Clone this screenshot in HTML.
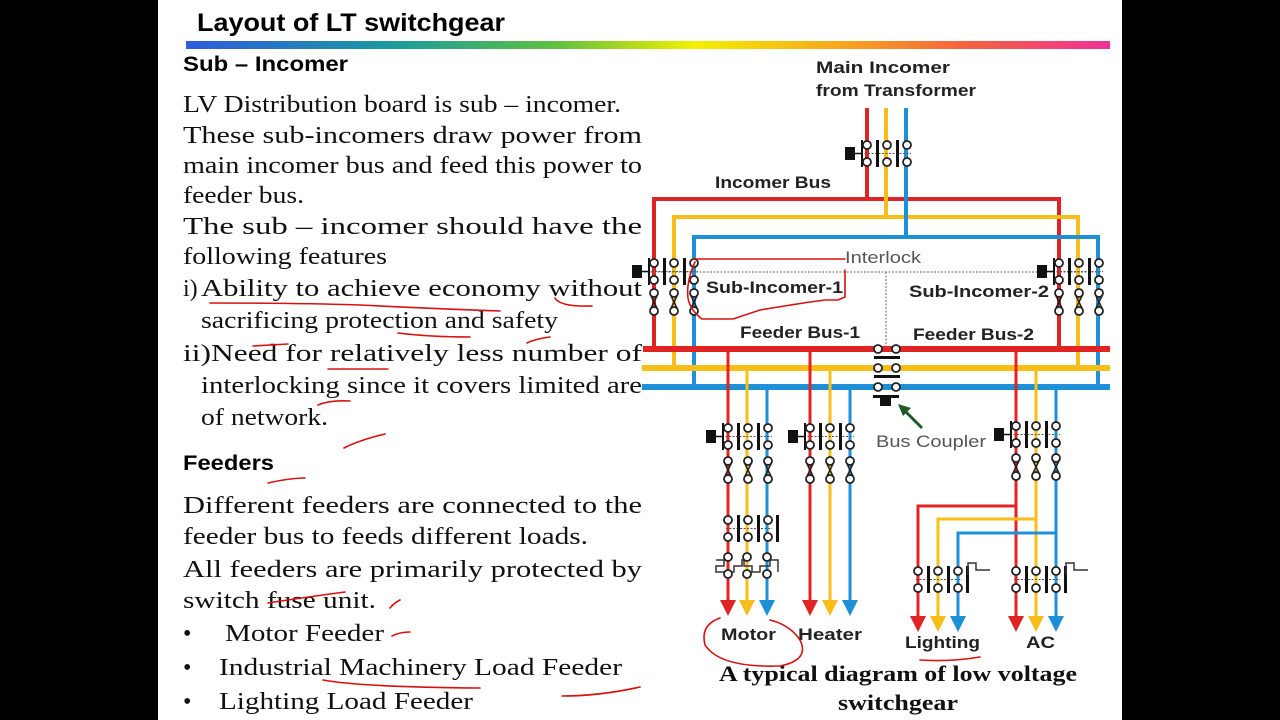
<!DOCTYPE html>
<html><head><meta charset="utf-8"><style>
html,body{margin:0;padding:0;background:#000;}
svg{display:block}
</style></head><body>
<svg width="1280" height="720" viewBox="0 0 1280 720" xmlns="http://www.w3.org/2000/svg">
<defs>
<linearGradient id="gb" x1="0" x2="1" y1="0" y2="0">
<stop offset="0" stop-color="#2f5be0"/><stop offset="0.22" stop-color="#1a9aa0"/><stop offset="0.4" stop-color="#60c040"/><stop offset="0.55" stop-color="#f2f000"/><stop offset="0.72" stop-color="#f9a020"/><stop offset="0.85" stop-color="#f56040"/><stop offset="1" stop-color="#f0309a"/>
</linearGradient>
<g id="pair"><circle cx="0" cy="0" r="4" fill="#fff" stroke="#222" stroke-width="1.8"/><circle cx="0" cy="17" r="4" fill="#fff" stroke="#222" stroke-width="1.8"/></g>
<g id="brk">
<line x1="-6" y1="8.5" x2="44" y2="8.5" stroke="#555" stroke-width="1" stroke-dasharray="2,1.5"/>
<rect x="-22" y="2" width="10" height="13" fill="#111"/><line x1="-12" y1="8.5" x2="-5" y2="8.5" stroke="#111" stroke-width="1.5"/>
<rect x="-6" y="-5" width="2" height="27" fill="#111"/>
<rect x="9" y="-5" width="3" height="27" fill="#111"/><rect x="29" y="-5" width="3" height="27" fill="#111"/>
<use href="#pair" x="0"/><use href="#pair" x="20"/><use href="#pair" x="40"/>
</g>
<g id="fus"><line x1="-3" y1="3" x2="3" y2="15" stroke="#222" stroke-width="1.5"/><line x1="3" y1="3" x2="-3" y2="15" stroke="#222" stroke-width="1.5"/>
<circle cx="0" cy="0" r="4" fill="#fff" stroke="#222" stroke-width="1.8"/><circle cx="0" cy="18" r="4" fill="#fff" stroke="#222" stroke-width="1.8"/></g>
<g id="fus3"><use href="#fus" x="0"/><use href="#fus" x="20"/><use href="#fus" x="40"/></g>
<g id="con">
<line x1="-2" y1="8.5" x2="44" y2="8.5" stroke="#555" stroke-width="1" stroke-dasharray="2,1.5"/>
<rect x="9" y="-5" width="3" height="27" fill="#111"/><rect x="29" y="-5" width="3" height="27" fill="#111"/><rect x="48" y="-5" width="3" height="27" fill="#111"/>
<use href="#pair" x="0"/><use href="#pair" x="20"/><use href="#pair" x="40"/>
</g>
</defs>
<rect x="158" y="0" width="964" height="720" fill="#fff"/>
<rect x="186" y="41" width="924" height="8" fill="url(#gb)"/>
<text x="197" y="31" font-family="Liberation Sans, sans-serif" font-weight="bold" font-size="25" textLength="308" lengthAdjust="spacingAndGlyphs">Layout of LT switchgear</text>
<g font-family="Liberation Sans, sans-serif" font-weight="bold" font-size="21">
<text x="183" y="71" textLength="165" lengthAdjust="spacingAndGlyphs">Sub – Incomer</text>
<text x="183" y="470" textLength="91" lengthAdjust="spacingAndGlyphs">Feeders</text>
</g>
<g font-family="Liberation Serif, serif" font-size="24" fill="#111">
<text x="183" y="112" textLength="438" lengthAdjust="spacingAndGlyphs">LV Distribution board is sub – incomer.</text>
<text x="183" y="143" textLength="459" lengthAdjust="spacingAndGlyphs">These sub-incomers draw power from</text>
<text x="183" y="173" textLength="459" lengthAdjust="spacingAndGlyphs">main incomer bus and feed this power to</text>
<text x="183" y="203" textLength="121" lengthAdjust="spacingAndGlyphs">feeder bus.</text>
<text x="183" y="234" textLength="459" lengthAdjust="spacingAndGlyphs">The sub – incomer should have the</text>
<text x="183" y="264" textLength="204" lengthAdjust="spacingAndGlyphs">following features</text>
<text x="183" y="296">i)</text>
<text x="201" y="296" textLength="441" lengthAdjust="spacingAndGlyphs">Ability to achieve economy without</text>
<text x="201" y="328" textLength="357" lengthAdjust="spacingAndGlyphs">sacrificing protection and safety</text>
<text x="183" y="361" textLength="459" lengthAdjust="spacingAndGlyphs">ii)Need for relatively less number of</text>
<text x="201" y="393" textLength="441" lengthAdjust="spacingAndGlyphs">interlocking since it covers limited are</text>
<text x="201" y="425" textLength="127" lengthAdjust="spacingAndGlyphs">of network.</text>
<text x="183" y="513" textLength="459" lengthAdjust="spacingAndGlyphs">Different feeders are connected to the</text>
<text x="183" y="544" textLength="405" lengthAdjust="spacingAndGlyphs">feeder bus to feeds different loads.</text>
<text x="183" y="577" textLength="459" lengthAdjust="spacingAndGlyphs">All feeders are primarily protected by</text>
<text x="183" y="608" textLength="193" lengthAdjust="spacingAndGlyphs">switch fuse unit.</text>
<text x="183" y="641">•</text><text x="225" y="641" textLength="159" lengthAdjust="spacingAndGlyphs">Motor Feeder</text>
<text x="183" y="675">•</text><text x="219" y="675" textLength="403" lengthAdjust="spacingAndGlyphs">Industrial Machinery Load Feeder</text>
<text x="183" y="709">•</text><text x="219" y="709" textLength="254" lengthAdjust="spacingAndGlyphs">Lighting Load Feeder</text>
</g>
<!-- buses -->
<g fill="none" stroke-linejoin="miter">
<path d="M867 108 V199 M654 350 V199 H1059 V350" stroke="#e02424" stroke-width="4"/>
<path d="M886 108 V217 M674 368 V217 H1078 V368" stroke="#f7bd1a" stroke-width="4"/>
<path d="M906 108 V237 M694 387 V237 H1098 V387" stroke="#1e90d8" stroke-width="4"/>
<path d="M643 349 H1110" stroke="#e02424" stroke-width="6"/>
<path d="M642 368 H1110" stroke="#f7bd1a" stroke-width="6"/>
<path d="M642 387 H1110" stroke="#1e90d8" stroke-width="6"/>
</g>
<line x1="640" y1="272" x2="1100" y2="272" stroke="#666" stroke-width="1" stroke-dasharray="2,1.5"/>
<line x1="886" y1="272" x2="886" y2="348" stroke="#666" stroke-width="1" stroke-dasharray="2,1.5"/>
<use href="#brk" x="867" y="145"/>
<use href="#brk" x="654" y="263"/><use href="#fus3" x="654" y="293"/>
<use href="#brk" x="1059" y="263"/><use href="#fus3" x="1059" y="293"/>
<!-- bus coupler -->
<g>
<rect x="874" y="356" width="26" height="3" fill="#111"/><rect x="874" y="375" width="26" height="3" fill="#111"/>
<circle cx="878" cy="349" r="4" fill="#fff" stroke="#222" stroke-width="1.8"/><circle cx="896" cy="349" r="4" fill="#fff" stroke="#222" stroke-width="1.8"/>
<circle cx="878" cy="368" r="4" fill="#fff" stroke="#222" stroke-width="1.8"/><circle cx="896" cy="368" r="4" fill="#fff" stroke="#222" stroke-width="1.8"/>
<circle cx="878" cy="387" r="4" fill="#fff" stroke="#222" stroke-width="1.8"/><circle cx="896" cy="387" r="4" fill="#fff" stroke="#222" stroke-width="1.8"/>
<rect x="873" y="395" width="26" height="3" fill="#111"/><rect x="880" y="395" width="11" height="11" fill="#111"/>
</g>
<path d="M922 428 L903 409" stroke="#1d5a2a" stroke-width="3"/><path d="M898 404 L911 408 L903 416 Z" fill="#1d5a2a"/>
<!-- feeders -->
<g fill="none" stroke-width="3">
<path d="M728 349 V600 M810 349 V600 M1016 349 V616 M1016 506 H918 V616" stroke="#e02424"/>
<path d="M747 368 V600 M830 368 V600 M1036 368 V616 M1036 519 H938 V616" stroke="#f7bd1a"/>
<path d="M767 387 V600 M850 387 V600 M1056 387 V616 M1056 533 H958 V616" stroke="#1e90d8"/>
</g>
<g>
<path d="M720 600 H736 L728 616 Z" fill="#e02424"/><path d="M739 600 H755 L747 616 Z" fill="#f7bd1a"/><path d="M759 600 H775 L767 616 Z" fill="#1e90d8"/>
<path d="M802 600 H818 L810 616 Z" fill="#e02424"/><path d="M822 600 H838 L830 616 Z" fill="#f7bd1a"/><path d="M842 600 H858 L850 616 Z" fill="#1e90d8"/>
<path d="M910 616 H926 L918 632 Z" fill="#e02424"/><path d="M930 616 H946 L938 632 Z" fill="#f7bd1a"/><path d="M950 616 H966 L958 632 Z" fill="#1e90d8"/>
<path d="M1008 616 H1024 L1016 632 Z" fill="#e02424"/><path d="M1028 616 H1044 L1036 632 Z" fill="#f7bd1a"/><path d="M1048 616 H1064 L1056 632 Z" fill="#1e90d8"/>
</g>
<use href="#brk" x="728" y="428"/><use href="#fus3" x="728" y="461"/>
<use href="#brk" x="810" y="428"/><use href="#fus3" x="810" y="461"/>
<use href="#brk" x="1016" y="426"/><use href="#fus3" x="1016" y="458"/>
<use href="#con" x="728" y="520"/>
<g fill="none" stroke="#333" stroke-width="1.5">
<path d="M716 560 H724 V566 H716 V572 H734 V566 H742 V560 H744 V566 H752 V572 H760 V566 H770 V560 H778 V572"/>
</g>
<use href="#pair" x="728" y="557"/><use href="#pair" x="747" y="557"/><use href="#pair" x="767" y="557"/>
<use href="#con" x="918" y="571"/><use href="#con" x="1016" y="571"/>
<path d="M968 575 V563 H976 V570 H990" fill="none" stroke="#333" stroke-width="1.5"/>
<path d="M1066 575 V563 H1074 V570 H1088" fill="none" stroke="#333" stroke-width="1.5"/>
<!-- labels -->
<g font-family="Liberation Sans, sans-serif" font-weight="bold" font-size="17" fill="#222">
<text x="816" y="73" textLength="134" lengthAdjust="spacingAndGlyphs">Main Incomer</text>
<text x="816" y="96" textLength="160" lengthAdjust="spacingAndGlyphs">from Transformer</text>
<text x="715" y="188" textLength="116" lengthAdjust="spacingAndGlyphs">Incomer Bus</text>
<text x="706" y="293" textLength="137" lengthAdjust="spacingAndGlyphs">Sub-Incomer-1</text>
<text x="909" y="297" textLength="140" lengthAdjust="spacingAndGlyphs">Sub-Incomer-2</text>
<text x="740" y="338" textLength="120" lengthAdjust="spacingAndGlyphs">Feeder Bus-1</text>
<text x="913" y="340" textLength="121" lengthAdjust="spacingAndGlyphs">Feeder Bus-2</text>
<text x="721" y="640" textLength="55" lengthAdjust="spacingAndGlyphs">Motor</text>
<text x="798" y="640" textLength="64" lengthAdjust="spacingAndGlyphs">Heater</text>
<text x="905" y="648" textLength="75" lengthAdjust="spacingAndGlyphs">Lighting</text>
<text x="1026" y="648" textLength="29" lengthAdjust="spacingAndGlyphs">AC</text>
</g>
<g font-family="Liberation Sans, sans-serif" font-size="17" fill="#555">
<text x="845" y="263" textLength="76" lengthAdjust="spacingAndGlyphs">Interlock</text>
<text x="876" y="447" textLength="110" lengthAdjust="spacingAndGlyphs">Bus Coupler</text>
</g>
<g font-family="Liberation Serif, serif" font-weight="bold" font-size="22" fill="#111">
<text x="719" y="681" textLength="358" lengthAdjust="spacingAndGlyphs">A typical diagram of low voltage</text>
<text x="838" y="710" textLength="120" lengthAdjust="spacingAndGlyphs">switchgear</text>
</g>
<!-- handwritten annotations -->
<g fill="none" stroke="#d81010" stroke-width="1.6" stroke-linecap="round">
<path d="M693 259 H845 M845 270 V297 L838 300 H825 L810 302 Q790 305 760 310 L733 319 H702 Q690 310 688 298 Q686 282 695 262"/>
<path d="M210 303 Q300 303 360 305 Q420 308 500 311"/>
<path d="M555 298 Q560 307 592 306"/>
<path d="M398 333 Q430 337 470 337"/>
<path d="M253 346 L288 344"/><path d="M328 369 H388"/><path d="M527 343 Q535 339 550 337"/>
<path d="M318 405 Q330 400 350 401"/><path d="M344 448 Q360 440 385 434"/>
<path d="M268 483 Q290 478 305 478"/>
<path d="M268 603 Q300 598 345 592"/><path d="M390 608 Q394 603 400 600"/><path d="M392 636 Q400 632 410 632"/>
<path d="M323 680 Q360 687 480 688"/><path d="M562 696 Q600 696 640 687"/>
<path d="M720 618 Q700 625 705 645 Q720 668 780 666 Q810 660 800 640 Q790 625 770 620"/>
<path d="M920 660 Q950 662 980 657"/>
</g>
</svg>
</body></html>
